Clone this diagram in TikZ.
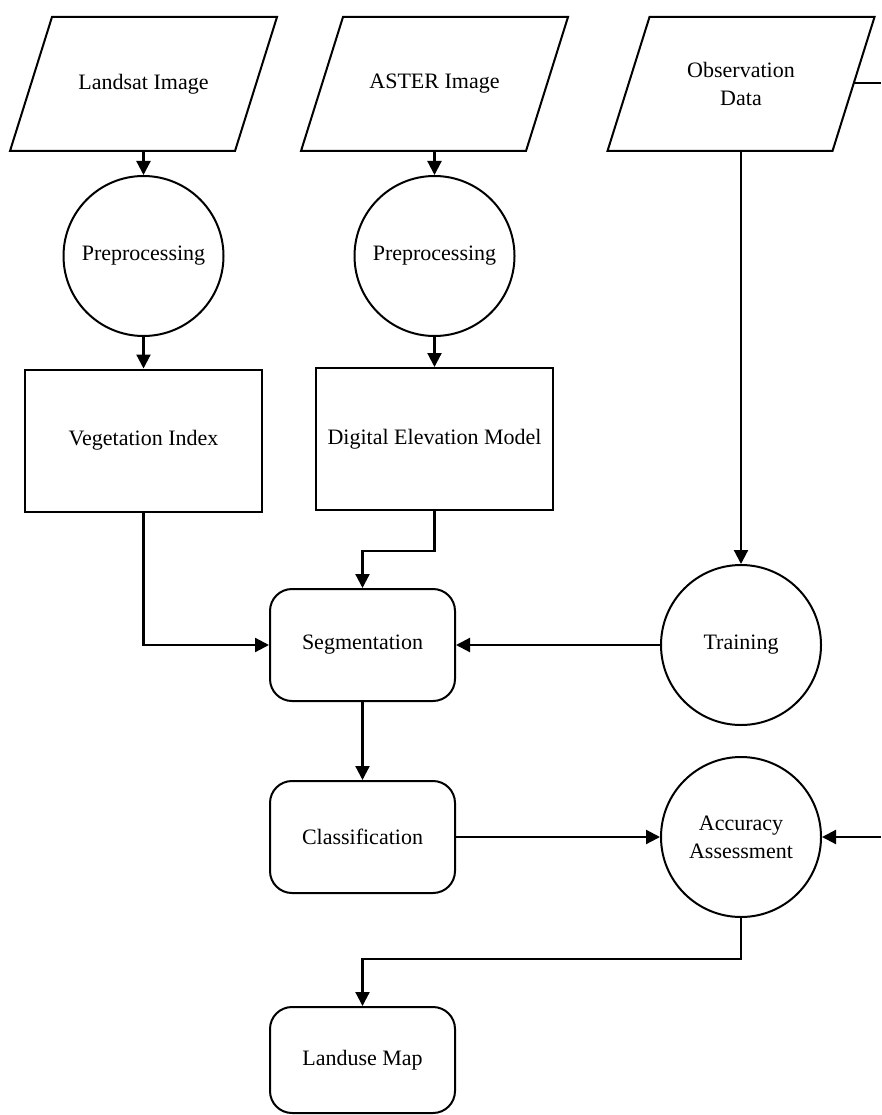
\documentclass[tikz,border=0pt]{standalone}
\usepackage{fontspec}
\setmainfont{Liberation Serif}
\usetikzlibrary{arrows.meta,calc}
\begin{document}
\begin{tikzpicture}[x=1pt,y=-1pt,
  every node/.style={font=\fontsize{22}{28}\selectfont, align=center, inner sep=0pt},
  para/.style={minimum width=267pt, minimum height=134pt, outer sep=0pt},
  proc/.style={circle, draw, line width=2pt, minimum size=160pt},
  box/.style={rectangle, draw, line width=2pt, minimum width=237pt, minimum height=142pt},
  rbox/.style={rectangle, draw, rounded corners=22pt, line width=2pt, minimum width=185pt, minimum height=112pt},
  conn/.style={line width=2.2pt, -{Triangle[length=14pt,width=14pt]}},
  plain/.style={line width=2.2pt},
  paraline/.style={line width=2pt, line join=miter}
]
\useasboundingbox (0,0) rectangle (881,1115);

% input parallelograms
\node[para] (land) at (143.5,84) {Landsat Image};
\node[para] (aster) at (434.5,84) {ASTER Image};
\node[para] (obs) at (741,84) {Observation\\Data};
\foreach \n in {land,aster,obs}{
  \draw[paraline] ($(\n.north west)+(42,0)$) -- (\n.north east) -- ($(\n.south east)-(42,0)$) -- (\n.south west) -- cycle;
}

% processes
\node[proc] (pre1) at (143.5,256) {Preprocessing};
\node[proc] (pre2) at (434.5,256) {Preprocessing};
\node[box] (veg) at (143.5,440.5) {Vegetation Index};
\node[box] (dem) at (434.5,439) {Digital Elevation Model};
\node[rbox] (seg) at (362.5,645) {Segmentation};
\node[proc] (train) at (741,645) {Training};
\node[rbox] (cls) at (362.5,837) {Classification};
\node[proc] (acc) at (741,837) {Accuracy\\Assessment};
\node[rbox, minimum height=106pt] (map) at (362.5,1060) {Landuse Map};

% connectors
\draw[conn] (land.south) -- (pre1.north);
\draw[conn] (pre1.south) -- (veg.north);
\draw[conn] (aster.south) -- (pre2.north);
\draw[conn] (pre2.south) -- (dem.north);
\draw[conn] (veg.south) |- (seg.west);
\draw[conn] (dem.south) -- ++(0,40) -| (seg.north);
\draw[conn] (obs.south) -- (train.north);
\draw[conn] (train.west) -- (seg.east);
\draw[conn] (seg.south) -- (cls.north);
\draw[conn] (cls.east) -- (acc.west);
\draw[conn] (acc.south) -- ++(0,41) -| (map.north);

% connector leaving the picture on the right
\coordinate (obsR) at (854,83);
\coordinate (edgeA) at (881,83);
\coordinate (edgeB) at (881,837);
\draw[plain] (obsR) -- (edgeA);
\draw[conn] (edgeB) -- (acc.east);
\end{tikzpicture}
\end{document}
